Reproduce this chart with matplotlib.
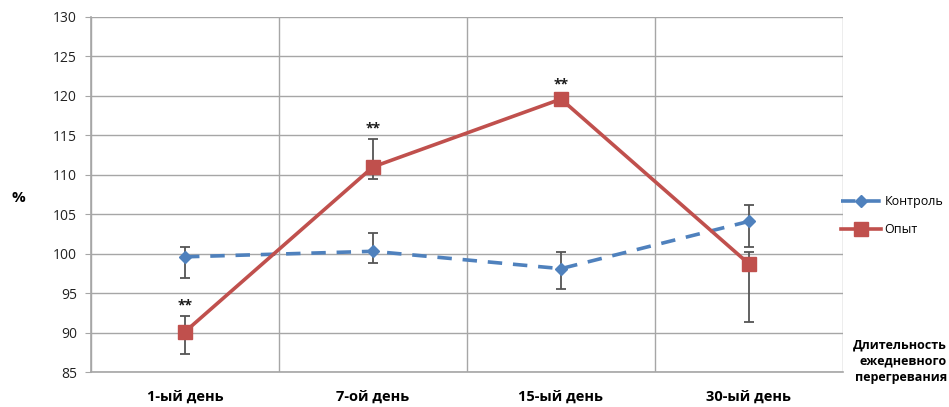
import matplotlib
matplotlib.use("Agg")
import matplotlib.pyplot as plt
import numpy as np

plt.rcParams['font.family'] = ['Open Sans', 'DejaVu Sans']

categories = ["1-ый день", "7-ой день", "15-ый день", "30-ый день"]
control = [99.6, 100.3, 98.1, 104.1]
control_hi = [100.9, 102.6, 100.2, 106.2]
control_lo = [96.9, 98.8, 95.5, 100.8]
experiment = [90.1, 111.0, 119.6, 98.7]
experiment_hi = [92.1, 114.5, 120.0, 100.2]
experiment_lo = [87.3, 109.5, 118.7, 91.4]
significance = ["**", "**", "**", ""]
y_ticks = [85, 90, 95, 100, 105, 110, 115, 120, 125, 130]

blue = "#4F81BD"
red = "#C0504D"
grid = "#A6A6A6"

fig = plt.figure(figsize=(9.49, 4.07), dpi=100)
ax = fig.add_axes([91 / 949, 35 / 407, 752 / 949, 355 / 407])

x = np.arange(len(categories))

ctrl = np.array(control)
ctrl_err = [ctrl - np.array(control_lo), np.array(control_hi) - ctrl]
expv = np.array(experiment)
exp_err = [expv - np.array(experiment_lo), np.array(experiment_hi) - expv]

ax.errorbar(x, ctrl, yerr=ctrl_err, fmt='none', ecolor="#555555",
            elinewidth=1.3, capsize=3.5, capthick=1.3, zorder=3)
ax.errorbar(x, expv, yerr=exp_err, fmt='none', ecolor="#555555",
            elinewidth=1.3, capsize=3.5, capthick=1.3, zorder=3)

ax.plot(x, ctrl, color=blue, lw=2.6, ls=(0, (4, 3)), marker='D',
        markersize=6, markerfacecolor=blue, markeredgecolor=blue,
        label="Контроль", zorder=4)
ax.plot(x, expv, color=red, lw=2.6, ls='-', marker='s',
        markersize=10, markerfacecolor=red, markeredgecolor=red,
        label="Опыт", zorder=5)

for xi, hi, s in zip(x, experiment_hi, significance):
    if s:
        ax.text(xi, hi + 0.5, s, ha='center', va='bottom', fontsize=10,
                fontweight='bold', color="#1a1a1a")

ax.set_xlim(-0.5, len(categories) - 0.5)
ax.set_ylim(85, 130)
ax.set_yticks(y_ticks)
ax.set_xticks(x)
ax.set_xticklabels(categories, fontsize=10.5, fontweight='bold')
ax.tick_params(axis='x', length=0, pad=13)
ax.tick_params(axis='y', length=4, color=grid, labelsize=10, pad=6,
               labelcolor="#222222")

ax.set_xticks(np.arange(-0.5, len(categories), 1.0), minor=True)
ax.tick_params(axis='x', which='minor', length=0)
ax.grid(True, axis='y', which='major', color=grid, lw=1)
ax.grid(True, axis='x', which='minor', color=grid, lw=1)
ax.grid(False, axis='x', which='major')
ax.set_axisbelow(True)

for side in ['top', 'right']:
    ax.spines[side].set_visible(False)
ax.spines['left'].set_color(grid)
ax.spines['bottom'].set_color(grid)
ax.spines['left'].set_linewidth(1.2)
ax.spines['bottom'].set_linewidth(1.2)

fig.text(18 / 949, 1 - 198 / 407, "%", fontsize=11, fontweight='bold',
         ha='center', va='center')

leg = ax.legend(loc='center left', bbox_to_anchor=(0.998, 0.44), frameon=False,
                fontsize=9, handlelength=3.2, handletextpad=0.25,
                labelspacing=1.2, borderaxespad=0, borderpad=0)

fig.text(947 / 949, 1 - 361 / 407, "Длительность\nежедневного\nперегревания",
         ha='right', va='center', fontsize=9, fontweight='bold',
         linespacing=1.3)

fig.savefig("out.png", dpi=100)
